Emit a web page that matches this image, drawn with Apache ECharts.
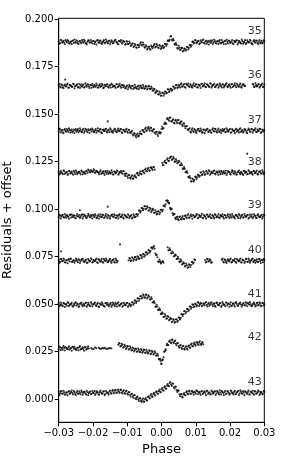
<!DOCTYPE html>
<html><head><meta charset="utf-8">
<script src="https://cdn.jsdelivr.net/npm/echarts@6/dist/echarts.min.js"></script>
<style>html,body{margin:0;padding:0;background:#fff}#c{width:291px;height:465px}</style>
</head><body><div id="c"></div>
<script>
// Series names (right-side labels) and their vertical offsets
const names = ['35','36','37','38','39','40','41','42','43'];
const offsets = [0.1880, 0.1649, 0.1413, 0.1192, 0.0962, 0.0728, 0.0497, 0.0266, 0.0032];
// Points: [phase in 1e-4, residual in 1e-4]
const s35 = [[-300,3],[-296,-6],[-292,8],[-288,1],[-284,-4],[-280,10],[-276,-2],[-272,5],[-268,-9],[-264,2],[-260,7],[-256,-5],[-252,0],[-248,9],[-244,-7],[-240,4],[-236,-1],[-232,11],[-228,-3],[-224,6],[-220,-8],[-216,2],[-212,8],[-208,-4],[-204,0],[-200,5],[-196,-10],[-192,3],[-188,9],[-184,-2],[-180,6],[-176,-6],[-172,1],[-168,10],[-164,-3],[-160,4],[-156,-7],[-152,7],[-148,-1],[-144,3],[-140,-5],[-136,9],[-132,0],[-128,-8],[-124,5],[-120,2],[-116,-4],[-112,6],[-108,1],[-104,-11],[-100,2],[-96,-10],[-92,-5],[-88,-17],[-84,-7],[-80,-22],[-76,-17],[-72,-30],[-68,-16],[-64,-18],[-60,-1],[-56,-18],[-52,-13],[-48,-30],[-44,-23],[-40,-34],[-36,-25],[-32,-41],[-28,-25],[-24,-24],[-20,-10],[-16,-24],[-12,-18],[-8,-32],[-4,-21],[0,-31],[4,-18],[8,-27],[12,-12],[16,-11],[20,9],[24,12],[28,31],[32,8],[36,9],[40,-13],[44,-15],[48,-35],[52,-30],[56,-41],[60,-31],[64,-46],[68,-36],[72,-40],[76,-26],[80,-31],[84,-15],[88,-17],[92,2],[96,-3],[100,8],[104,-2],[108,5],[112,-7],[116,1],[120,10],[124,-4],[128,3],[132,-9],[136,6],[140,0],[144,-5],[148,9],[152,-1],[156,4],[160,-8],[164,7],[168,2],[172,-6],[176,11],[180,-3],[184,5],[188,-10],[192,1],[196,8],[200,-4],[204,3],[208,-7],[212,6],[216,0],[220,9],[224,-5],[228,2],[232,-8],[236,5],[240,-2],[244,10],[248,-6],[252,3],[256,-1],[260,7],[264,-9],[268,4],[272,0],[276,8],[280,-5],[284,2],[288,-7],[292,6],[296,-3],[300,4]];
const s35b = [[-298,-9],[-294,12],[-290,-3],[-286,6],[-282,-12],[-278,4],[-274,11],[-270,-6],[-266,1],[-262,-11],[-258,8],[-254,13],[-250,-4],[-246,2],[-242,-10],[-238,7],[-234,-7],[-230,3],[-226,12],[-222,-5],[-218,-12],[-214,9],[-210,-1],[-206,11],[-202,-8],[-198,5],[-194,-2],[-190,-13],[-186,10],[-182,-4],[-178,8],[-174,-10],[-170,2],[-166,-6],[-162,13],[-158,-3],[-154,6],[-150,-11],[-146,9],[-142,-7],[-138,4],[-134,12],[-130,-2],[-126,-12],[-122,7],[-118,11],[-114,-9],[-110,3],[-106,-14],[-102,4],[-98,-11],[-94,3],[-90,-20],[-86,-11],[-82,-26],[-78,-11],[-74,-29],[-70,-14],[-66,-27],[-62,-8],[-58,-14],[-54,-3],[-50,-26],[-46,-17],[-42,-39],[-38,-25],[-34,-36],[-30,-19],[-26,-33],[-22,-17],[-18,-29],[-14,-11],[-10,-29],[-6,-16],[-2,-37],[2,-23],[6,-32],[10,-10],[14,-20],[18,6],[22,5],[26,29],[30,12],[34,17],[38,-11],[42,-6],[46,-32],[50,-20],[54,-42],[58,-31],[62,-50],[66,-34],[70,-46],[74,-26],[78,-39],[82,-17],[86,-25],[90,1],[94,-8],[98,11],[102,-7],[106,4],[110,-12],[114,9],[118,-3],[122,13],[126,-9],[130,6],[134,-1],[138,-13],[142,8],[146,2],[150,-10],[154,12],[158,-5],[162,3],[166,-11],[170,10],[174,-6],[178,1],[182,-12],[186,7],[190,12],[194,-8],[198,5],[202,-3],[206,11],[210,-10],[214,2],[218,8],[222,-13],[226,6],[230,-4],[234,13],[238,-9],[242,0],[246,-11],[250,9],[254,-2],[258,12],[262,-6],[266,-12],[270,10],[274,-4],[278,7],[282,-10],[286,11],[290,-1],[294,-8],[298,9]];
const s36 = [[-300,5],[-296,-3],[-292,9],[-288,-7],[-284,2],[-281,33],[-280,-1],[-276,6],[-272,-9],[-268,4],[-264,0],[-260,-5],[-256,8],[-252,-2],[-248,3],[-244,-8],[-240,10],[-236,1],[-232,-4],[-228,7],[-224,-6],[-220,2],[-216,9],[-212,-3],[-208,5],[-204,-10],[-200,0],[-196,6],[-192,-4],[-188,3],[-184,-7],[-180,8],[-176,-1],[-172,4],[-168,-8],[-164,1],[-160,7],[-156,-5],[-152,2],[-148,-9],[-144,6],[-140,0],[-136,-3],[-132,9],[-128,-6],[-124,3],[-120,-2],[-116,5],[-112,-7],[-108,-3],[-104,-11],[-100,2],[-96,-8],[-92,-2],[-88,-14],[-84,0],[-80,-10],[-76,-5],[-72,-15],[-68,1],[-64,-9],[-60,-1],[-56,-12],[-52,-4],[-48,-13],[-44,-4],[-40,-14],[-36,-3],[-32,-16],[-28,-12],[-24,-25],[-20,-19],[-16,-33],[-12,-28],[-8,-45],[-4,-39],[0,-51],[4,-36],[8,-42],[12,-31],[16,-36],[20,-19],[24,-26],[28,-16],[32,-21],[36,-5],[40,-10],[44,4],[48,-7],[52,1],[56,8],[60,-4],[64,5],[68,-6],[72,11],[76,2],[80,-2],[84,9],[88,-5],[92,4],[96,-1],[100,7],[104,-7],[108,6],[112,1],[116,10],[120,-3],[124,4],[128,-5],[132,8],[136,2],[140,-4],[144,11],[148,-1],[152,6],[156,-6],[160,3],[164,9],[168,-2],[172,5],[176,-8],[180,7],[184,0],[188,10],[192,-4],[196,4],[200,-2],[204,8],[208,-6],[212,5],[216,1],[220,11],[224,-3],[228,6],[232,-5],[236,3],[240,8],[244,-1],[268,6],[272,-4],[276,4],[280,0],[284,9],[288,-3],[292,5],[296,-6],[300,7]];
const s36b = [[-298,10],[-294,-8],[-290,3],[-286,-12],[-282,7],[-278,-3],[-274,12],[-270,-10],[-266,5],[-262,-5],[-258,11],[-254,-13],[-250,1],[-246,8],[-242,-6],[-238,-11],[-234,9],[-230,2],[-226,-9],[-222,13],[-218,-4],[-214,6],[-210,-12],[-206,4],[-202,10],[-198,-7],[-194,-1],[-190,12],[-186,-10],[-182,3],[-178,-5],[-174,11],[-170,-12],[-166,6],[-162,-2],[-158,9],[-154,-9],[-150,4],[-146,12],[-142,-6],[-138,1],[-134,-11],[-130,8],[-126,-4],[-122,11],[-118,-10],[-114,3],[-110,3],[-106,-13],[-102,-2],[-98,-18],[-94,4],[-90,-9],[-86,1],[-82,-16],[-78,6],[-74,-11],[-70,-3],[-66,-17],[-62,2],[-58,-12],[-54,5],[-50,-15],[-46,-1],[-42,-19],[-38,0],[-34,-16],[-30,-3],[-26,-24],[-22,-15],[-18,-37],[-14,-24],[-10,-44],[-6,-30],[-2,-52],[2,-36],[6,-52],[10,-30],[14,-40],[18,-18],[22,-33],[26,-15],[30,-26],[34,-3],[38,-15],[42,5],[46,-11],[50,6],[54,-8],[58,13],[62,-3],[66,10],[70,-10],[74,6],[78,12],[82,-6],[86,3],[90,-9],[94,14],[98,-2],[102,9],[106,-8],[110,5],[114,-11],[118,11],[122,0],[126,13],[130,-7],[134,7],[138,-4],[142,14],[146,-9],[150,4],[154,11],[158,-5],[162,6],[166,-10],[170,12],[174,-1],[178,9],[182,-8],[186,3],[190,13],[194,-6],[198,7],[202,-10],[206,10],[210,-2],[214,14],[218,-7],[222,5],[226,-4],[230,12],[234,-9],[238,8],[242,0],[266,11],[270,-6],[274,14],[278,-3],[282,9],[286,-9],[290,5],[294,12],[298,-5]];
const s37 = [[-300,-4],[-296,7],[-292,1],[-288,-8],[-284,5],[-280,-2],[-276,9],[-272,-6],[-268,3],[-264,0],[-260,-9],[-256,6],[-252,2],[-248,-5],[-244,8],[-240,-1],[-236,4],[-232,-7],[-228,10],[-224,-3],[-220,5],[-216,-8],[-212,1],[-208,7],[-204,-4],[-200,3],[-196,-6],[-192,9],[-188,0],[-184,-2],[-180,6],[-176,-9],[-172,4],[-168,-1],[-164,8],[-160,-5],[-157,49],[-156,2],[-152,-7],[-148,6],[-144,0],[-140,-3],[-136,10],[-132,-6],[-128,3],[-124,-1],[-120,7],[-116,-8],[-112,4],[-108,-2],[-104,5],[-100,-5],[-96,5],[-92,-9],[-88,-6],[-84,-20],[-80,-13],[-76,-27],[-72,-21],[-68,-30],[-64,-15],[-60,-16],[-56,3],[-52,-5],[-48,9],[-44,-1],[-40,13],[-36,8],[-32,16],[-28,1],[-24,5],[-20,-11],[-16,-7],[-12,-20],[-8,-12],[-4,-15],[0,9],[4,10],[8,35],[12,36],[16,61],[20,59],[24,68],[28,50],[32,55],[36,42],[40,54],[44,46],[48,55],[52,41],[56,46],[60,31],[64,38],[68,23],[72,23],[76,6],[80,9],[84,-6],[88,4],[92,-3],[96,8],[100,-6],[104,1],[108,9],[112,-4],[116,2],[120,-9],[124,5],[128,0],[132,7],[136,-5],[140,3],[144,-8],[148,6],[152,-1],[156,10],[160,-4],[164,2],[168,-7],[172,5],[176,0],[180,-3],[184,8],[188,-6],[192,4],[196,-1],[200,9],[204,-8],[208,3],[212,-2],[216,6],[220,-5],[224,1],[228,8],[232,-7],[236,4],[240,-3],[244,7],[248,-9],[252,2],[256,5],[260,-4],[264,9],[268,-1],[272,3],[276,-6],[280,6],[284,-2],[288,8],[292,-7],[296,1],[300,4]];
const s37b = [[-298,11],[-294,-9],[-290,4],[-286,-13],[-282,8],[-278,-5],[-274,2],[-270,12],[-266,-10],[-262,6],[-258,-3],[-254,-12],[-250,9],[-246,1],[-242,-8],[-238,13],[-234,-6],[-230,3],[-226,-11],[-222,10],[-218,-2],[-214,7],[-210,-12],[-206,5],[-202,11],[-198,-7],[-194,2],[-190,-10],[-186,12],[-182,-4],[-178,8],[-174,-13],[-170,6],[-166,-1],[-162,10],[-158,-9],[-154,4],[-150,12],[-146,-6],[-142,-11],[-138,7],[-134,1],[-130,-8],[-126,11],[-122,-3],[-118,9],[-114,-12],[-110,5],[-106,-6],[-102,10],[-98,-11],[-94,4],[-90,-12],[-86,0],[-82,-25],[-78,-16],[-74,-35],[-70,-15],[-66,-26],[-62,-4],[-58,-19],[-54,4],[-50,-8],[-46,16],[-42,2],[-38,19],[-34,0],[-30,14],[-26,-4],[-22,8],[-18,-16],[-14,-6],[-10,-28],[-6,-6],[-2,-10],[2,21],[6,14],[10,43],[14,38],[18,67],[22,52],[26,69],[30,47],[34,60],[38,38],[42,56],[46,39],[50,57],[54,36],[58,49],[62,25],[66,37],[70,13],[74,25],[78,2],[82,13],[86,-9],[90,12],[94,-7],[98,3],[102,-12],[106,9],[110,-2],[114,11],[118,-9],[122,6],[126,-13],[130,4],[134,10],[138,-6],[142,1],[146,-11],[150,13],[154,-4],[158,7],[162,-10],[166,11],[170,-3],[174,-12],[178,8],[182,2],[186,-8],[190,12],[194,-5],[198,6],[202,-11],[206,9],[210,-1],[214,-13],[218,10],[222,4],[226,-9],[230,12],[234,-2],[238,-10],[242,7],[246,1],[250,-12],[254,11],[258,-6],[262,8],[266,-11],[270,5],[274,12],[278,-8],[282,-1],[286,10],[290,-12],[294,6],[298,-4]];
const s38 = [[-300,6],[-296,-4],[-292,2],[-288,-8],[-284,9],[-280,-1],[-276,4],[-272,-6],[-268,7],[-264,0],[-260,-3],[-256,10],[-252,-7],[-248,3],[-244,-2],[-240,5],[-236,-9],[-232,6],[-228,1],[-224,-4],[-220,8],[-216,-2],[-212,11],[-208,3],[-204,9],[-200,4],[-196,12],[-192,2],[-188,7],[-184,-1],[-180,5],[-176,-6],[-172,3],[-168,-3],[-164,8],[-160,-7],[-156,1],[-152,6],[-148,-4],[-144,2],[-140,-9],[-136,5],[-132,0],[-128,7],[-124,-5],[-120,3],[-116,-2],[-112,9],[-108,-8],[-104,-4],[-100,-19],[-96,-13],[-92,-27],[-88,-21],[-84,-31],[-80,-19],[-76,-22],[-72,-4],[-68,-14],[-64,-2],[-60,-6],[-56,8],[-52,2],[-48,15],[-44,7],[-40,19],[-36,12],[-32,26],[-28,20],[-24,29],[-20,16],[4,40],[8,56],[12,52],[16,69],[20,62],[24,76],[28,85],[32,71],[36,75],[40,58],[44,63],[48,53],[52,58],[56,39],[60,40],[64,19],[68,20],[72,2],[76,-2],[80,-25],[84,-29],[88,-46],[92,-35],[96,-39],[100,-21],[104,-24],[108,-13],[112,-16],[116,1],[120,-9],[124,1],[128,-7],[132,5],[136,-2],[140,8],[144,-5],[148,1],[152,9],[156,-6],[160,3],[164,-1],[168,7],[172,-8],[176,4],[180,0],[184,-4],[188,10],[192,-3],[196,5],[200,-7],[204,2],[208,8],[212,-5],[216,1],[220,-9],[224,6],[228,-2],[232,4],[236,-6],[240,9],[244,-1],[248,3],[250,100],[252,-7],[256,6],[260,0],[264,-4],[268,8],[272,-3],[276,5],[280,-8],[284,2],[288,7],[292,-5],[296,3],[300,-1]];
const s38b = [[-298,-10],[-294,8],[-290,-3],[-286,12],[-282,-7],[-278,1],[-274,-12],[-270,10],[-266,-5],[-262,6],[-258,-11],[-254,3],[-250,13],[-246,-8],[-242,5],[-238,-2],[-234,11],[-230,-9],[-226,4],[-222,-6],[-218,9],[-214,16],[-210,2],[-206,14],[-202,6],[-198,17],[-194,-1],[-190,10],[-186,3],[-182,-9],[-178,12],[-174,-4],[-170,7],[-166,-12],[-162,2],[-158,10],[-154,-7],[-150,-1],[-146,12],[-142,-10],[-138,6],[-134,-4],[-130,11],[-126,-11],[-122,3],[-118,9],[-114,-6],[-110,7],[-106,-17],[-102,-6],[-98,-28],[-94,-14],[-90,-32],[-86,-14],[-82,-31],[-78,-14],[-74,-26],[-70,-1],[-66,-13],[-62,7],[-58,-9],[-54,11],[-50,-3],[-46,21],[-42,7],[-38,26],[-34,10],[-30,28],[-26,14],[-22,30],[2,51],[6,39],[10,63],[14,50],[18,76],[22,63],[26,82],[30,67],[34,84],[38,58],[42,71],[46,49],[50,63],[54,39],[58,49],[62,21],[66,29],[70,2],[74,8],[78,-23],[82,-18],[86,-46],[90,-31],[94,-46],[98,-22],[102,-33],[106,-11],[110,-22],[114,1],[118,-13],[122,7],[126,-12],[130,9],[134,-6],[138,12],[142,-11],[146,4],[150,-3],[154,11],[158,-9],[162,6],[166,-12],[170,1],[174,10],[178,-7],[182,8],[186,-2],[190,-12],[194,9],[198,3],[202,-10],[206,12],[210,-4],[214,7],[218,-11],[222,2],[226,11],[230,-8],[234,-1],[238,-13],[242,10],[246,5],[250,-9],[254,12],[258,-5],[262,3],[266,-11],[270,9],[274,-2],[278,11],[282,-10],[286,6],[290,-4],[294,12],[298,-8]];
const s39 = [[-300,-5],[-296,4],[-292,-1],[-288,8],[-284,-7],[-280,2],[-276,6],[-272,-3],[-268,9],[-264,-6],[-260,1],[-256,5],[-252,-9],[-248,3],[-244,0],[-240,7],[-238,32],[-236,-4],[-232,10],[-228,-2],[-224,5],[-220,-8],[-216,2],[-212,6],[-208,-5],[-204,1],[-200,8],[-196,-3],[-192,4],[-188,-7],[-184,9],[-180,0],[-176,-4],[-172,6],[-168,-9],[-164,3],[-160,-1],[-157,51],[-156,7],[-152,-6],[-148,2],[-144,9],[-140,-3],[-136,5],[-132,-8],[-128,1],[-124,6],[-120,-4],[-116,3],[-112,-7],[-108,8],[-104,0],[-100,-5],[-96,4],[-92,-2],[-88,7],[-84,-6],[-80,3],[-76,-3],[-72,11],[-68,11],[-64,30],[-60,27],[-56,43],[-52,38],[-48,53],[-44,41],[-40,47],[-36,31],[-32,39],[-28,29],[-24,35],[-20,19],[-16,23],[-12,13],[-8,25],[-4,19],[0,34],[4,34],[8,57],[12,63],[16,84],[19,82],[22,68],[25,45],[28,41],[32,16],[36,13],[40,-8],[44,-5],[48,-15],[52,-4],[56,-14],[60,-6],[64,-13],[68,2],[72,-5],[76,5],[80,-8],[84,3],[88,-1],[92,7],[96,-5],[100,2],[104,9],[108,-6],[112,0],[116,4],[120,-9],[124,6],[128,-2],[132,8],[136,-4],[140,1],[144,-7],[148,5],[152,-3],[156,10],[160,-5],[164,2],[168,-8],[172,6],[176,0],[180,-3],[184,7],[188,-6],[192,4],[196,-1],[200,9],[204,-7],[208,3],[212,-4],[216,6],[220,1],[224,-9],[228,5],[232,-2],[236,8],[240,-5],[244,3],[248,-1],[252,7],[256,-6],[260,2],[264,9],[268,-3],[272,4],[276,-8],[280,6],[284,0],[288,-4],[292,8],[296,-2],[300,5]];
const s39b = [[-298,9],[-294,-11],[-290,5],[-286,-4],[-282,12],[-278,-8],[-274,1],[-270,-13],[-266,7],[-262,11],[-258,-5],[-254,3],[-250,-10],[-246,12],[-242,-2],[-238,-9],[-234,6],[-230,-12],[-226,9],[-222,2],[-218,-7],[-214,13],[-210,-4],[-206,7],[-202,-11],[-198,4],[-194,11],[-190,-9],[-186,1],[-182,-12],[-178,10],[-174,-3],[-170,8],[-166,-6],[-162,12],[-158,-10],[-154,3],[-150,-13],[-146,7],[-142,-1],[-138,11],[-134,-8],[-130,5],[-126,-11],[-122,12],[-118,-3],[-114,9],[-110,-12],[-106,4],[-102,-6],[-98,11],[-94,-9],[-90,2],[-86,-12],[-82,10],[-78,-5],[-74,11],[-70,2],[-66,30],[-62,20],[-58,44],[-54,32],[-50,53],[-46,38],[-42,53],[-38,31],[-34,45],[-30,23],[-26,39],[-22,19],[-18,32],[-14,10],[-10,26],[-6,11],[-2,34],[2,25],[6,55],[10,52],[14,82],[18,74],[22,70],[26,36],[30,38],[34,6],[38,12],[42,-15],[46,-2],[50,-20],[54,-1],[58,-17],[62,2],[66,-15],[70,5],[74,-10],[78,12],[82,-6],[86,9],[90,-13],[94,4],[98,-2],[102,11],[106,-10],[110,6],[114,-4],[118,13],[122,-8],[126,2],[130,-12],[134,9],[138,-1],[142,11],[146,-9],[150,4],[154,-11],[158,7],[162,-3],[166,12],[170,-7],[174,1],[178,10],[182,-12],[186,5],[190,-6],[194,11],[198,-9],[202,2],[206,12],[210,-5],[214,-11],[218,8],[222,-2],[226,10],[230,-10],[234,4],[238,-7],[242,12],[246,-3],[250,7],[254,-12],[258,9],[262,-4],[266,-10],[270,11],[274,1],[278,-9],[282,10],[286,-5],[290,3],[294,-11],[298,8]];
const s40 = [[-300,3],[-296,-6],[-293,50],[-292,8],[-288,-2],[-284,5],[-280,-9],[-276,1],[-272,7],[-268,-4],[-264,10],[-260,-7],[-256,2],[-252,-1],[-248,6],[-244,-8],[-240,4],[-236,-3],[-232,9],[-228,0],[-224,-5],[-220,6],[-216,-10],[-212,3],[-208,-2],[-204,8],[-200,-6],[-196,1],[-192,5],[-188,-8],[-184,7],[-180,-3],[-176,2],[-172,-7],[-168,9],[-164,-1],[-160,4],[-156,-6],[-152,6],[-148,-4],[-144,1],[-140,8],[-136,-9],[-132,3],[-128,-2],[-121,86],[-96,1],[-92,11],[-88,1],[-84,13],[-80,8],[-76,19],[-72,9],[-68,19],[-64,12],[-60,28],[-56,22],[-52,34],[-48,29],[-44,45],[-40,39],[-36,53],[-32,51],[-28,70],[-24,72],[-20,64],[-16,30],[-12,18],[-8,-6],[-4,-3],[-1,-9],[2,-5],[6,-10],[18,71],[22,55],[26,56],[30,38],[34,41],[38,26],[42,28],[46,11],[50,11],[54,-6],[58,-2],[62,-16],[66,-14],[70,-28],[74,-24],[78,-34],[82,-22],[86,-23],[90,-7],[94,-9],[98,3],[127,4],[131,-6],[135,7],[139,-3],[143,2],[147,-8],[176,5],[180,-4],[184,8],[188,-7],[192,2],[196,-1],[200,6],[204,-9],[208,4],[212,0],[216,-5],[220,9],[224,-2],[228,3],[232,-8],[236,6],[240,1],[244,-4],[248,10],[252,-6],[256,2],[260,-3],[264,7],[268,-7],[272,4],[276,0],[280,-5],[284,8],[288,-2],[292,5],[296,-8],[300,3]];
const s40b = [[-298,-11],[-294,9],[-290,-3],[-286,12],[-282,-8],[-278,4],[-274,-13],[-270,6],[-266,11],[-262,-5],[-258,1],[-254,-10],[-250,12],[-246,-2],[-242,8],[-238,-12],[-234,5],[-230,10],[-226,-7],[-222,2],[-218,-11],[-214,9],[-210,-4],[-206,13],[-202,-9],[-198,3],[-194,-1],[-190,11],[-186,-12],[-182,6],[-178,-5],[-174,10],[-170,-10],[-166,2],[-162,12],[-158,-8],[-154,-2],[-150,9],[-146,-11],[-142,4],[-138,-6],[-134,11],[-130,-9],[-94,14],[-90,-2],[-86,18],[-82,0],[-78,19],[-74,3],[-70,24],[-66,10],[-62,30],[-58,14],[-54,35],[-50,21],[-46,44],[-42,33],[-38,57],[-34,44],[-30,69],[-26,63],[-22,77],[-18,38],[-14,31],[-10,-4],[-6,6],[-2,-14],[4,-1],[20,55],[24,66],[28,40],[32,49],[36,22],[40,33],[44,9],[48,21],[52,-4],[56,6],[60,-20],[64,-8],[68,-30],[72,-15],[76,-37],[80,-19],[84,-33],[88,-7],[92,-16],[96,8],[129,-9],[133,10],[137,-4],[141,8],[145,-11],[178,11],[182,-9],[186,3],[190,-12],[194,8],[198,-4],[202,12],[206,-7],[210,1],[214,10],[218,-11],[222,5],[226,-3],[230,12],[234,-9],[238,2],[242,-12],[246,9],[250,-5],[254,11],[258,-10],[262,4],[266,12],[270,-2],[274,-11],[278,8],[282,-6],[286,10],[290,-12],[294,3],[298,9]];
const s41 = [[-300,7],[-296,-3],[-292,2],[-288,-8],[-284,5],[-280,0],[-276,-6],[-272,9],[-268,-1],[-264,4],[-260,-7],[-256,3],[-252,8],[-248,-5],[-244,1],[-240,-9],[-236,6],[-232,-2],[-228,4],[-224,-6],[-220,10],[-216,-3],[-212,2],[-208,-8],[-204,5],[-200,0],[-196,7],[-192,-4],[-188,3],[-184,-10],[-180,6],[-176,-1],[-172,4],[-168,-7],[-164,8],[-160,-2],[-156,1],[-152,-5],[-148,9],[-144,-3],[-140,5],[-136,-8],[-132,2],[-128,6],[-124,-4],[-120,0],[-116,7],[-112,-6],[-108,3],[-104,-2],[-100,8],[-96,-5],[-92,1],[-88,-2],[-84,11],[-80,7],[-76,20],[-72,16],[-68,32],[-64,31],[-60,45],[-56,37],[-52,47],[-48,38],[-44,50],[-40,39],[-36,43],[-32,28],[-28,31],[-24,11],[-20,9],[-16,-11],[-12,-10],[-8,-28],[-4,-29],[0,-49],[4,-47],[8,-64],[12,-60],[16,-73],[20,-65],[24,-79],[28,-76],[32,-89],[36,-81],[40,-92],[44,-79],[48,-85],[52,-69],[56,-70],[60,-51],[64,-51],[68,-35],[72,-39],[76,-24],[80,-28],[84,-11],[88,-14],[92,-1],[96,-9],[100,2],[104,-4],[108,9],[112,1],[116,6],[120,-5],[124,4],[128,10],[132,-2],[136,3],[140,-6],[144,8],[148,0],[152,5],[156,-7],[160,9],[164,2],[168,-3],[172,7],[176,-5],[180,4],[184,-1],[188,11],[192,-4],[196,6],[200,1],[204,-8],[208,5],[212,-2],[216,9],[220,3],[224,-6],[228,7],[232,0],[236,-3],[240,8],[244,-5],[248,4],[252,10],[256,-1],[260,2],[264,-7],[268,6],[272,1],[276,-4],[280,9],[284,-2],[288,5],[292,-6],[296,7],[300,2]];
const s41b = [[-298,-10],[-294,11],[-290,-6],[-286,9],[-282,-13],[-278,3],[-274,12],[-270,-8],[-266,1],[-262,10],[-258,-11],[-254,-3],[-250,12],[-246,6],[-242,-12],[-238,4],[-234,11],[-230,-9],[-226,-1],[-222,8],[-218,-12],[-214,10],[-210,-5],[-206,13],[-202,-10],[-198,2],[-194,11],[-190,-7],[-186,9],[-182,-13],[-178,1],[-174,12],[-170,-5],[-166,-11],[-162,7],[-158,10],[-154,-9],[-150,3],[-146,-12],[-142,11],[-138,-2],[-134,9],[-130,-10],[-126,12],[-122,-6],[-118,4],[-114,-12],[-110,10],[-106,-3],[-102,8],[-98,-11],[-94,6],[-90,-9],[-86,12],[-82,-1],[-78,22],[-74,9],[-70,33],[-66,20],[-62,44],[-58,32],[-54,53],[-50,36],[-46,53],[-42,33],[-38,49],[-34,27],[-30,39],[-26,12],[-22,19],[-18,-10],[-14,-1],[-10,-28],[-6,-20],[-2,-49],[2,-41],[6,-65],[10,-51],[14,-74],[18,-60],[22,-83],[26,-70],[30,-92],[34,-76],[38,-95],[42,-77],[46,-92],[50,-68],[54,-78],[58,-51],[62,-60],[66,-35],[70,-47],[74,-23],[78,-35],[82,-10],[86,-22],[90,1],[94,-14],[98,5],[102,-10],[106,13],[110,-7],[114,10],[118,-9],[122,6],[126,-4],[130,13],[134,-10],[138,9],[142,0],[146,12],[150,-8],[154,5],[158,-11],[162,11],[166,-3],[170,8],[174,-12],[178,13],[182,-1],[186,-9],[190,10],[194,4],[198,-11],[202,12],[206,-5],[210,7],[214,-10],[218,13],[222,-6],[226,3],[230,11],[234,-11],[238,6],[242,-2],[246,12],[250,-9],[254,5],[258,13],[262,-8],[266,1],[270,11],[274,-10],[278,8],[282,-4],[286,12],[290,-9],[294,10],[298,-5]];
const s42 = [[-300,-4],[-296,6],[-292,1],[-288,-7],[-284,3],[-280,8],[-276,-2],[-272,5],[-268,-6],[-264,2],[-260,9],[-256,-3],[-252,0],[-248,-8],[-244,4],[-240,7],[-236,-5],[-232,1],[-228,-2],[-224,6],[-220,-6],[-216,3],[-212,0],[-205,2],[-198,-3],[-190,1],[-183,4],[-176,-2],[-169,0],[-165,3],[-157,-1],[-150,2],[-146,0],[-126,19],[-122,26],[-118,13],[-114,19],[-110,6],[-106,13],[-102,3],[-98,11],[-94,-3],[-90,3],[-86,-9],[-82,0],[-78,-9],[-74,-3],[-70,-15],[-66,-8],[-62,-19],[-58,-9],[-54,-17],[-50,-9],[-46,-21],[-42,-16],[-38,-23],[-34,-13],[-30,-27],[-26,-19],[-22,-28],[-18,-22],[-14,-36],[-10,-38],[-6,-58],[-3,-66],[0,-82],[3,-59],[6,-45],[9,-16],[12,-5],[15,17],[18,18],[22,36],[26,33],[30,45],[34,32],[38,38],[42,25],[46,28],[50,11],[54,15],[58,4],[62,11],[66,-2],[70,6],[74,0],[78,11],[82,6],[86,20],[90,13],[94,24],[98,20],[102,31],[106,24],[110,32],[114,23],[118,29],[122,22]];
const s42b = [[-298,10],[-294,-9],[-290,4],[-286,12],[-282,-11],[-278,2],[-274,-5],[-270,11],[-266,-1],[-262,-12],[-258,7],[-254,9],[-250,-6],[-246,3],[-242,-10],[-238,12],[-234,-3],[-230,6],[-226,-12],[-222,9],[-218,-4],[-214,11],[-202,-4],[-194,5],[-180,-1],[-172,3],[-161,-3],[-153,1],[-124,29],[-120,10],[-116,25],[-112,5],[-108,19],[-104,-3],[-100,13],[-96,-6],[-92,11],[-88,-10],[-84,5],[-80,-16],[-76,0],[-72,-18],[-68,0],[-64,-19],[-60,-3],[-56,-23],[-52,-6],[-48,-24],[-44,-7],[-40,-26],[-36,-10],[-32,-30],[-28,-13],[-24,-32],[-20,-15],[-16,-38],[-12,-28],[-8,-55],[-4,-55],[-1,-80],[2,-63],[4,-58],[8,-18],[12,-11],[16,25],[20,18],[24,42],[28,28],[32,47],[36,27],[40,41],[44,17],[48,28],[52,4],[56,18],[60,-3],[64,14],[68,-6],[72,11],[76,-6],[80,16],[84,3],[88,26],[92,11],[96,31],[100,15],[104,34],[108,18],[112,38],[116,19],[120,34]];
const s43 = [[-300,6],[-296,-2],[-292,9],[-288,-5],[-284,3],[-280,-8],[-276,1],[-272,7],[-268,-4],[-264,5],[-260,-1],[-256,10],[-252,-6],[-248,2],[-244,-3],[-240,8],[-236,-7],[-232,4],[-228,0],[-224,6],[-220,-9],[-216,3],[-212,-2],[-208,7],[-204,-5],[-200,1],[-196,9],[-192,-4],[-188,2],[-184,-8],[-180,5],[-176,0],[-172,-3],[-168,8],[-164,-6],[-160,4],[-156,-1],[-152,7],[-148,-1],[-144,11],[-140,3],[-136,12],[-132,2],[-128,12],[-124,6],[-120,15],[-116,2],[-112,9],[-108,-1],[-104,8],[-100,-3],[-96,3],[-92,-11],[-88,-6],[-84,-18],[-80,-13],[-76,-28],[-72,-23],[-68,-34],[-64,-29],[-60,-43],[-56,-37],[-52,-46],[-48,-33],[-44,-37],[-40,-22],[-36,-26],[-32,-13],[-28,-20],[-24,-6],[-20,-9],[-16,4],[-12,-3],[-8,9],[-4,6],[0,19],[4,14],[8,29],[12,23],[16,38],[20,37],[24,52],[28,44],[32,49],[36,30],[40,32],[44,15],[48,13],[52,-7],[56,-9],[60,-21],[64,-8],[68,-11],[72,3],[76,-4],[80,7],[84,-3],[88,8],[92,0],[96,5],[100,-5],[104,9],[108,2],[112,-2],[116,7],[120,-6],[124,4],[128,1],[132,10],[136,-4],[140,3],[144,-7],[148,6],[152,0],[156,8],[160,-3],[164,5],[168,-8],[172,2],[176,9],[180,-1],[184,4],[188,-6],[192,7],[196,1],[200,-4],[204,8],[208,-2],[212,5],[216,-7],[220,3],[224,10],[228,-3],[232,6],[236,-5],[240,2],[244,8],[248,-1],[252,4],[256,-8],[260,6],[264,0],[268,-3],[272,9],[276,-5],[280,3],[284,7],[288,-4],[292,2],[296,-6],[300,5]];
const s43b = [[-298,-12],[-294,8],[-290,-4],[-286,11],[-282,-9],[-278,3],[-274,-13],[-270,9],[-266,-2],[-262,12],[-258,-8],[-254,4],[-250,-11],[-246,10],[-242,-5],[-238,1],[-234,12],[-230,-10],[-226,6],[-222,-3],[-218,11],[-214,-12],[-210,4],[-206,-7],[-202,10],[-198,-1],[-194,-11],[-190,9],[-186,3],[-182,-9],[-178,12],[-174,-5],[-170,7],[-166,-12],[-162,10],[-158,-2],[-154,-9],[-150,12],[-146,-4],[-142,15],[-138,-3],[-134,16],[-130,-1],[-126,18],[-122,0],[-118,17],[-114,-3],[-110,14],[-106,-5],[-102,12],[-98,-9],[-94,4],[-90,-19],[-86,-5],[-82,-26],[-78,-11],[-74,-33],[-70,-20],[-66,-43],[-62,-29],[-58,-48],[-54,-30],[-50,-47],[-46,-27],[-42,-41],[-38,-18],[-34,-30],[-30,-6],[-26,-20],[-22,1],[-18,-14],[-14,8],[-10,-5],[-6,17],[-2,3],[2,25],[6,11],[10,34],[14,22],[18,47],[22,35],[26,57],[30,37],[34,48],[38,23],[42,33],[46,5],[50,11],[54,-18],[58,-6],[62,-24],[66,-1],[70,-13],[74,9],[78,-7],[82,12],[86,-6],[90,9],[94,-10],[98,3],[102,13],[106,-7],[110,6],[114,-11],[118,10],[122,-2],[126,8],[130,-12],[134,11],[138,1],[142,-8],[146,12],[150,-4],[154,7],[158,-11],[162,10],[166,-1],[170,13],[174,-9],[178,4],[182,-12],[186,11],[190,-5],[194,8],[198,-10],[202,12],[206,0],[210,-8],[214,11],[218,-4],[222,7],[226,-11],[230,13],[234,-2],[238,9],[242,-12],[246,6],[250,-6],[254,12],[258,-9],[262,4],[266,11],[270,-10],[274,7],[278,-3],[282,12],[286,-11],[290,5],[294,-7],[298,10]];
const seriesPoints = [s35.concat(s35b), s36.concat(s36b), s37.concat(s37b), s38.concat(s38b), s39.concat(s39b), s40.concat(s40b), s41.concat(s41b), s42.concat(s42b), s43.concat(s43b)];
// Axis ticks
const xTicks = [-0.03, -0.02, -0.01, 0, 0.01, 0.02, 0.03];
const yTicks = [0, 0.025, 0.05, 0.075, 0.1, 0.125, 0.15, 0.175, 0.2];
// Label placement (phase, height above offset)
const labelPhase = 0.0252;
const labelLift = 0.0057;

const FONT = 'DejaVu Sans';
const chart = echarts.init(document.getElementById('c'), null, {renderer: 'canvas'});
const series = seriesPoints.map((pts, i) => ({
  type: 'scatter',
  name: names[i],
  symbolSize: 2.1,
  itemStyle: {color: '#000'},
  silent: true,
  data: pts.map(p => [p[0] / 10000, offsets[i] + p[1] / 10000])
}));
series.push({
  type: 'scatter',
  symbolSize: 0,
  silent: true,
  data: names.map((n, i) => ({name: n, value: [labelPhase, offsets[i] + labelLift]})),
  label: {show: true, position: 'right', distance: 0, formatter: '{b}', fontSize: 11, fontFamily: FONT, color: '#000'}
});
const fmtX = v => Math.abs(v) < 1e-9 ? '0.00' : (v < 0 ? '\u2212' + Math.abs(v).toFixed(2) : v.toFixed(2));
chart.setOption({
  animation: false,
  grid: {left: 58.7, right: 26.7, top: 18.3, bottom: 42.7, containLabel: false, outerBoundsMode: 'none', show: true, borderColor: '#000', borderWidth: 1, backgroundColor: 'transparent'},
  xAxis: {
    type: 'value', min: -0.03, max: 0.03,
    name: 'Phase', nameLocation: 'middle', nameGap: 19,
    nameTextStyle: {fontSize: 13, fontFamily: FONT, color: '#000'},
    axisLine: {show: true, onZero: false, lineStyle: {color: '#000', width: 1}},
    axisTick: {show: true, length: 4, customValues: xTicks, lineStyle: {color: '#000'}},
    axisLabel: {customValues: xTicks, formatter: fmtX, margin: 6, fontSize: 10, fontFamily: FONT, color: '#000'},
    splitLine: {show: false}
  },
  yAxis: {
    type: 'value', min: -0.0123, max: 0.2005,
    name: 'Residuals + offset', nameLocation: 'middle', nameGap: 41,
    nameTextStyle: {fontSize: 13, fontFamily: FONT, color: '#000'},
    axisLine: {show: true, onZero: false, lineStyle: {color: '#000', width: 1}},
    axisTick: {show: true, length: 4, customValues: yTicks, lineStyle: {color: '#000'}},
    axisLabel: {customValues: yTicks, formatter: v => v.toFixed(3), margin: 5, fontSize: 10, fontFamily: FONT, color: '#000'},
    splitLine: {show: false}
  },
  series: series
});
</script>
</body></html>
